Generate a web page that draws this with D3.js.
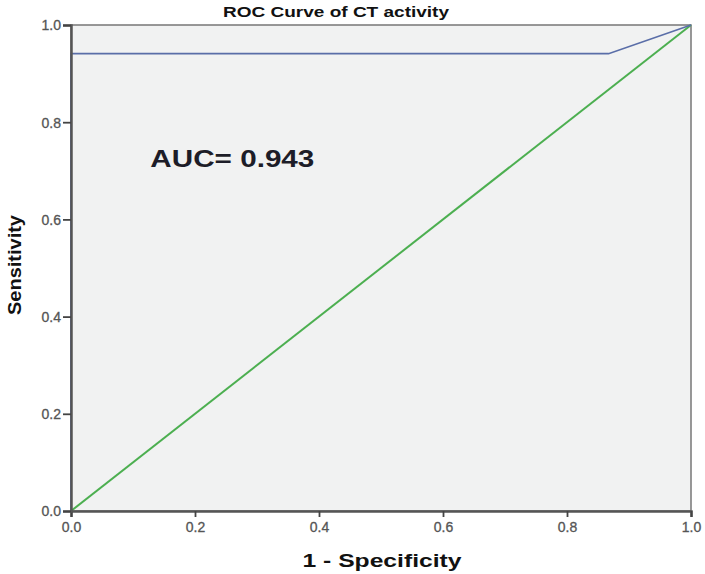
<!DOCTYPE html>
<html>
<head>
<meta charset="utf-8">
<script src="https://cdn.jsdelivr.net/npm/d3@7"></script>
<style>
  body { margin: 0; background: #fff; }
  svg text { font-family: "Liberation Sans", Arial, sans-serif; }
</style>
</head>
<body>
<div id="vis"></div>
<script>
// ROC curve points (1 - specificity, sensitivity)
var rocFpr = [0, 0, 0.867, 1];
var rocTpr = [0, 0.941, 0.941, 1];
// reference diagonal
var refFpr = [0, 1];
var refTpr = [0, 1];
var tickValues = [0, 0.2, 0.4, 0.6, 0.8, 1.0];
var aucLabel = 'AUC= 0.943';

var width = 705, height = 574;
var margin = { top: 25, right: 14, bottom: 63, left: 71 };
var drawWidth = width - margin.left - margin.right,
    drawHeight = height - margin.top - margin.bottom;

var svg = d3.select('#vis').append('svg')
    .attr('width', width)
    .attr('height', height);

var g = svg.append('g')
    .attr('transform', 'translate(' + margin.left + ',' + margin.top + ')');

var xScale = d3.scaleLinear().domain([0, 1]).range([0, drawWidth]);
var yScale = d3.scaleLinear().domain([0, 1]).range([drawHeight, 0]);

// plot background
g.append('rect')
    .attr('width', drawWidth)
    .attr('height', drawHeight)
    .attr('fill', '#f1f2f2')
    .attr('stroke', '#777')
    .attr('stroke-width', 1.5);

var line = d3.line()
    .x(function(d) { return xScale(d[0]); })
    .y(function(d) { return yScale(d[1]); });

g.append('path')
    .datum(d3.zip(refFpr, refTpr))
    .attr('d', line)
    .attr('fill', 'none')
    .attr('stroke', '#4caf50')
    .attr('stroke-width', 2);

g.append('path')
    .datum(d3.zip(rocFpr, rocTpr))
    .attr('d', line)
    .attr('fill', 'none')
    .attr('stroke', '#5a6ea8')
    .attr('stroke-width', 1.6);

// axes
var xAxis = d3.axisBottom(xScale).tickValues(tickValues).tickFormat(d3.format('.1f')).tickSize(6);
var yAxis = d3.axisLeft(yScale).tickValues(tickValues).tickFormat(d3.format('.1f')).tickSize(8);

var xg = g.append('g')
    .attr('transform', 'translate(0,' + drawHeight + ')')
    .call(xAxis);
var yg = g.append('g').call(yAxis);

[xg, yg].forEach(function(ax) {
    ax.select('.domain').attr('stroke', '#555').attr('stroke-width', 2.5);
    ax.selectAll('.tick line').attr('stroke', '#444').attr('stroke-width', 1.8);
    ax.selectAll('.tick text')
        .attr('fill', '#555')
        .attr('stroke', '#555')
        .attr('stroke-width', 0.3)
        .style('font-size', '14px')
        .style('font-family', '"Liberation Sans", Arial, sans-serif');
});
xg.selectAll('.tick text').attr('y', 9).attr('dy', '0.85em');
yg.selectAll('.tick text').attr('x', -10).attr('dy', '0.35em');

// AUC annotation
g.append('text')
    .attr('x', xScale(0.128))
    .attr('y', yScale(0.708))
    .attr('fill', '#1d1d28')
    .attr('textLength', 164)
    .attr('lengthAdjust', 'spacingAndGlyphs')
    .style('font-size', '23px')
    .style('font-weight', 'bold')
    .text(aucLabel);

// title
svg.append('text')
    .attr('x', 336)
    .attr('y', 17)
    .attr('text-anchor', 'middle')
    .attr('fill', '#111')
    .attr('textLength', 226)
    .attr('lengthAdjust', 'spacingAndGlyphs')
    .style('font-size', '14px')
    .style('font-weight', 'bold')
    .text('ROC Curve of CT activity');

// axis titles
svg.append('text')
    .attr('x', 382)
    .attr('y', 567)
    .attr('text-anchor', 'middle')
    .attr('fill', '#111')
    .attr('textLength', 159)
    .attr('lengthAdjust', 'spacingAndGlyphs')
    .style('font-size', '18px')
    .style('font-weight', 'bold')
    .text('1 - Specificity');

svg.append('text')
    .attr('transform', 'translate(21,265) rotate(-90)')
    .attr('text-anchor', 'middle')
    .attr('fill', '#111')
    .attr('textLength', 100)
    .attr('lengthAdjust', 'spacingAndGlyphs')
    .style('font-size', '19px')
    .style('font-weight', 'bold')
    .text('Sensitivity');
</script>
</body>
</html>
